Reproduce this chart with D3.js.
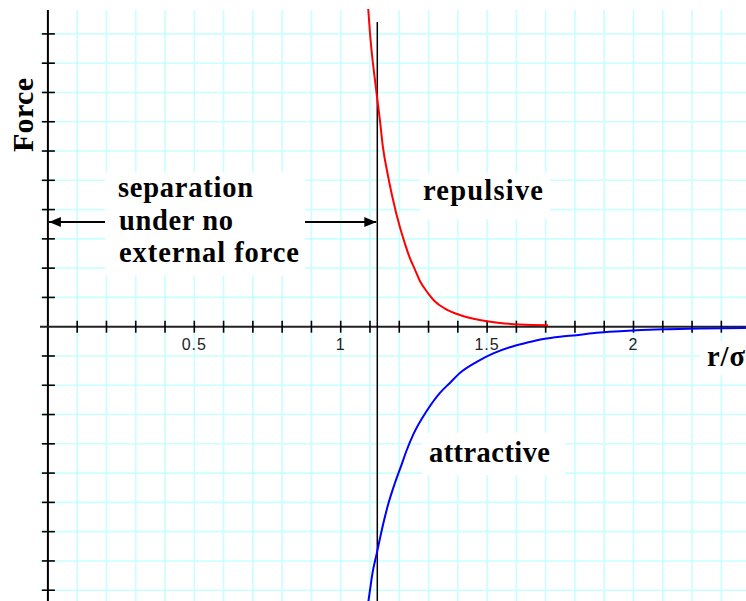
<!DOCTYPE html>
<html>
<head>
<meta charset="utf-8">
<script src="https://cdn.jsdelivr.net/npm/d3@7"></script>
<style>
  html, body { margin: 0; padding: 0; background: #fff; }
  svg { display: block; }
  .serif { font-family: "Liberation Serif", "Times New Roman", Times, serif; font-weight: bold; }
  .sans { font-family: "Liberation Sans", Arial, Helvetica, sans-serif; }
</style>
</head>
<body>
<script>
// ---------- data ----------
const xTickValues = [0.5, 1, 1.5, 2];
const xTickLabels = ["0.5", "1", "1.5", "2"];
const equilibrium = 1.125;   // separation under no external force (r/σ)

// repulsive force (red)
const repulsiveR = [1.094, 1.100, 1.107, 1.117, 1.124, 1.134, 1.144, 1.161, 1.175, 1.203, 1.219, 1.236,
                    1.254, 1.271, 1.298, 1.322, 1.356, 1.407, 1.475, 1.544, 1.612, 1.708];
const repulsiveF = [10.85, 10.03, 9.28, 8.43, 7.85, 7.05, 6.15, 5.18, 4.50, 3.37, 2.85, 2.35,
                    1.94, 1.55, 1.15, 0.86, 0.62, 0.40, 0.23, 0.13, 0.075, 0.05];

// attractive force (blue)
const attractiveR = [1.090, 1.100, 1.108, 1.123, 1.1455, 1.1626, 1.1855, 1.2083, 1.2254, 1.248, 1.2937,
                     1.339, 1.373, 1.407, 1.4645, 1.521, 1.578, 1.635, 1.692, 1.749, 1.806, 1.874,
                     1.954, 2.102, 2.227, 2.384];
const attractiveF = [-9.7, -9.0, -8.45, -7.75, -6.72, -6.05, -5.33, -4.70, -4.22, -3.68, -2.88,
                     -2.26, -1.92, -1.58, -1.20, -0.91, -0.70, -0.55, -0.42, -0.34, -0.29, -0.21,
                     -0.157, -0.089, -0.06, -0.045];

// ---------- layout ----------
const W = 746, H = 601;
const x = d3.scaleLinear().domain([0, 1]).range([47.9, 340.7]);
const y = d3.scaleLinear().domain([0, 1]).range([326.7, 297.42]);

const gridR = d3.range(1, 24).map(i => i / 10);
const gridF = d3.range(-9, 11).filter(v => v !== 0);

const svg = d3.select("body").append("svg")
  .attr("width", W).attr("height", H);

const defs = svg.append("defs");
defs.append("clipPath").attr("id", "clip")
  .append("rect").attr("x", 0).attr("y", 0).attr("width", W).attr("height", H);

// grid
const grid = svg.append("g").attr("stroke", "#c8ffff").attr("stroke-width", 1.6);
grid.selectAll("line.v").data(gridR).join("line")
  .attr("x1", d => x(d)).attr("x2", d => x(d))
  .attr("y1", 10).attr("y2", H);
grid.selectAll("line.h").data(gridF).join("line")
  .attr("x1", 40).attr("x2", W)
  .attr("y1", d => y(d)).attr("y2", d => y(d));

// white label backgrounds
const boxes = [
  [105, 172, 200, 104],   // separation text
  [420, 173, 130, 46],    // repulsive
  [422, 433, 143, 42],    // attractive
  [700, 341, 46, 34]      // r/σ
];
svg.append("g").selectAll("rect").data(boxes).join("rect")
  .attr("x", d => d[0]).attr("y", d => d[1]).attr("width", d => d[2]).attr("height", d => d[3])
  .attr("fill", "#fff");

// axes
const axes = svg.append("g").attr("stroke", "#000");
axes.append("line").attr("x1", x(0)).attr("x2", x(0)).attr("y1", 10).attr("y2", H).attr("stroke-width", 2);
axes.append("line").attr("x1", 40).attr("x2", W).attr("y1", y(0)).attr("y2", y(0)).attr("stroke-width", 2).attr("stroke", "#222");
axes.selectAll("line.yt").data(gridF).join("line")
  .attr("x1", x(0) - 6).attr("x2", x(0) + 7)
  .attr("y1", d => y(d)).attr("y2", d => y(d)).attr("stroke-width", 1.6);
axes.selectAll("line.xt").data(gridR).join("line")
  .attr("x1", d => x(d)).attr("x2", d => x(d))
  .attr("y1", y(0) - 6).attr("y2", y(0) + 6).attr("stroke-width", 1.6);

// tick labels
svg.append("g").selectAll("text").data(xTickValues).join("text")
  .attr("class", "sans")
  .attr("x", d => x(d)).attr("y", y(0) + 23)
  .attr("text-anchor", "middle")
  .style("font-size", "16px").style("letter-spacing", "1px").attr("fill", "#222")
  .text((d, i) => xTickLabels[i]);

// equilibrium vertical line
svg.append("line")
  .attr("x1", x(equilibrium)).attr("x2", x(equilibrium))
  .attr("y1", 22).attr("y2", H)
  .attr("stroke", "#000").attr("stroke-width", 1.5);

// curves
const line = d3.line().curve(d3.curveMonotoneX).x(d => x(d[0])).y(d => y(d[1]));
const curves = svg.append("g").attr("clip-path", "url(#clip)").attr("fill", "none").attr("stroke-width", 2);
curves.append("path").datum(repulsiveR.map((r, i) => [r, repulsiveF[i]]))
  .attr("d", line).attr("stroke", "#ff0000");
curves.append("path").datum(attractiveR.map((r, i) => [r, attractiveF[i]]))
  .attr("d", line).attr("stroke", "#0000ff");

// arrows
defs.append("marker").attr("id", "arrow").attr("viewBox", "0 0 12 10")
  .attr("refX", 12).attr("refY", 5).attr("markerWidth", 12).attr("markerHeight", 10)
  .attr("markerUnits", "userSpaceOnUse").attr("orient", "auto")
  .append("path").attr("d", "M0,0 L12,5 L0,10 Z").attr("fill", "#000");
const arrowY = 222;
svg.append("line").attr("x1", 105).attr("x2", x(0) + 1).attr("y1", arrowY).attr("y2", arrowY)
  .attr("stroke", "#000").attr("stroke-width", 2).attr("marker-end", "url(#arrow)");
svg.append("line").attr("x1", 305).attr("x2", x(equilibrium) - 1).attr("y1", arrowY).attr("y2", arrowY)
  .attr("stroke", "#000").attr("stroke-width", 2).attr("marker-end", "url(#arrow)");

// text labels
function label(txt, px, py, len, size) {
  svg.append("text").attr("class", "serif").attr("x", px).attr("y", py)
    .attr("textLength", len).attr("lengthAdjust", "spacing")
    .style("font-size", (size || 28.5) + "px").attr("fill", "#000")
    .text(txt);
}
label("separation", 118, 197, 135);
label("under no", 119, 230, 114);
label("external force", 119, 262, 180);
label("repulsive", 423, 200, 120);
label("attractive", 429, 462, 121);
label("r/σ", 707, 366, 38);

svg.append("text").attr("class", "serif")
  .attr("transform", "translate(33,152) rotate(-90)")
  .attr("textLength", 74).attr("lengthAdjust", "spacing")
  .style("font-size", "30px").attr("fill", "#000")
  .text("Force");
</script>
</body>
</html>
